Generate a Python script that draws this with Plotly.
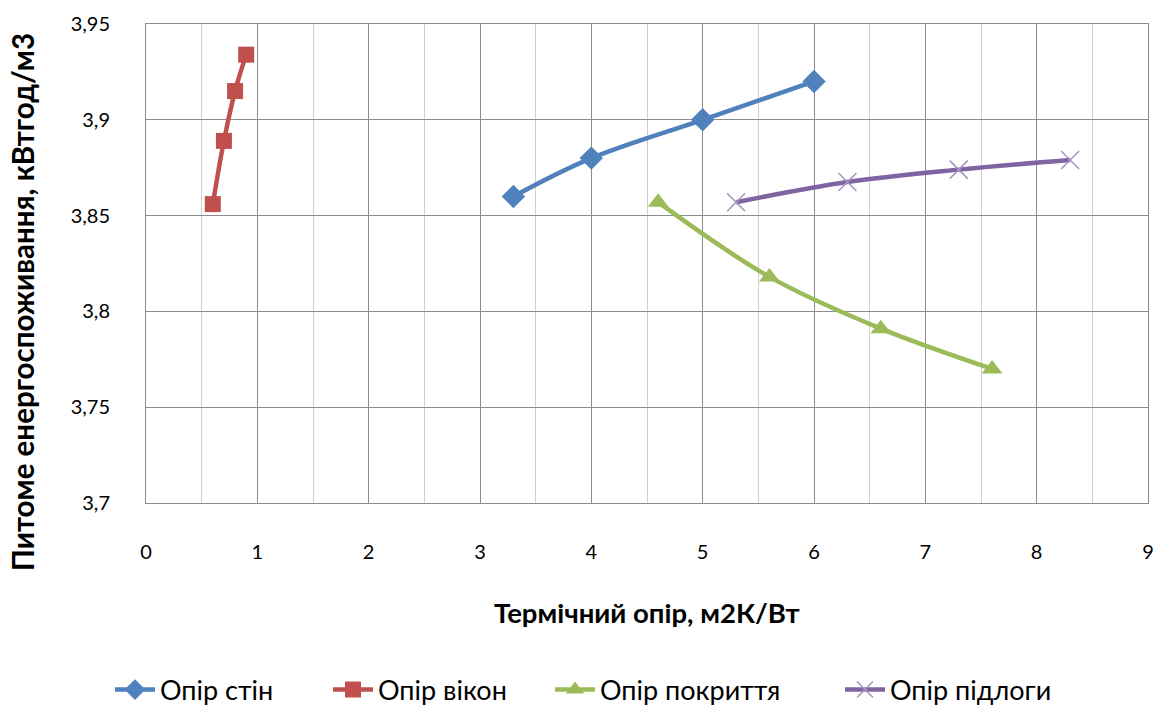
import plotly.graph_objects as go

walls_x = [3.3, 4, 5, 6]
walls_y = [3.86, 3.88, 3.90, 3.92]
windows_x = [0.6, 0.7, 0.8, 0.9]
windows_y = [3.856, 3.889, 3.915, 3.934]
roof_x = [4.6, 5.6, 6.6, 7.6]
roof_y = [3.857, 3.818, 3.791, 3.770]
floor_x = [5.3, 6.3, 7.3, 8.3]
floor_y = [3.857, 3.8675, 3.874, 3.879]

names = ["Опір стін", "Опір вікон", "Опір покриття", "Опір підлоги"]
x_ticks = list(range(0, 10))
y_ticks = [3.7, 3.75, 3.8, 3.85, 3.9, 3.95]

FONT = "Lato"
fig = go.Figure()
fig.add_trace(go.Scatter(x=walls_x, y=walls_y, name=names[0], mode="lines+markers", legend="legend",
                         line=dict(color="#4F81BD", width=4.5, shape="spline"),
                         marker=dict(symbol="diamond", size=18, color="#4F81BD")))
fig.add_trace(go.Scatter(x=windows_x, y=windows_y, name=names[1], mode="lines+markers", legend="legend2",
                         line=dict(color="#C0504D", width=4.5, shape="spline"),
                         marker=dict(symbol="square", size=16, color="#C0504D")))
fig.add_trace(go.Scatter(x=roof_x, y=roof_y, name=names[2], mode="lines+markers", legend="legend3",
                         line=dict(color="#9BBB59", width=4.5, shape="spline"),
                         marker=dict(symbol="triangle-up", size=18, color="#9BBB59")))
fig.add_trace(go.Scatter(x=floor_x, y=floor_y, name=names[3], mode="lines+markers", legend="legend4",
                         line=dict(color="#8064A2", width=4.5, shape="spline"),
                         marker=dict(symbol="x-thin", size=18, color="#A593C4",
                                     line=dict(width=1.5, color="#A593C4"))))

def leg(px):
    return dict(orientation="h", xref="container", x=px / 1168, xanchor="left",
                yref="container", y=0.0213, yanchor="middle", bgcolor="rgba(0,0,0,0)",
                font=dict(family=FONT, size=27), itemwidth=40)

fig.update_layout(
    width=1168, height=705,
    margin=dict(l=146, r=20, t=24, b=202, autoexpand=False),
    paper_bgcolor="white", plot_bgcolor="white",
    separators=", ",
    font=dict(family=FONT, size=20, color="#000000"),
    showlegend=True,
    legend=leg(110), legend2=leg(328), legend3=leg(550), legend4=leg(840),
    xaxis=dict(range=[0, 9], tickvals=x_ticks, showgrid=True, gridcolor="#8C8C8C", gridwidth=1,
               minor=dict(dtick=0.5, showgrid=True, gridcolor="#CFCFCF", gridwidth=1),
               showline=True, linecolor="#8C8C8C", mirror=True, zeroline=False,
               ticks="", ticklabelstandoff=31, tickfont=dict(size=20, family=FONT)),
    yaxis=dict(range=[3.7, 3.95], tickvals=y_ticks, showgrid=True, gridcolor="#8C8C8C", gridwidth=1,
               showline=True, linecolor="#8C8C8C", mirror=True, zeroline=False,
               ticks="", ticklabelstandoff=31, tickformat=".2~f", tickfont=dict(size=20, family=FONT)),
    annotations=[
        dict(text="<b>Термічний опір, м2К/Вт</b>", xref="paper", yref="paper",
             x=0.5, y=-0.2276, xanchor="center", yanchor="middle", showarrow=False,
             font=dict(size=27.5, family=FONT)),
        dict(text="<b>Питоме енергоспоживання, кВтгод/м3</b>", xref="paper", yref="paper",
             x=-0.1225, y=0.42, xanchor="center", yanchor="middle", textangle=-90, showarrow=False,
             font=dict(size=29.5, family=FONT)),
    ],
)

fig.write_html("out.html")
